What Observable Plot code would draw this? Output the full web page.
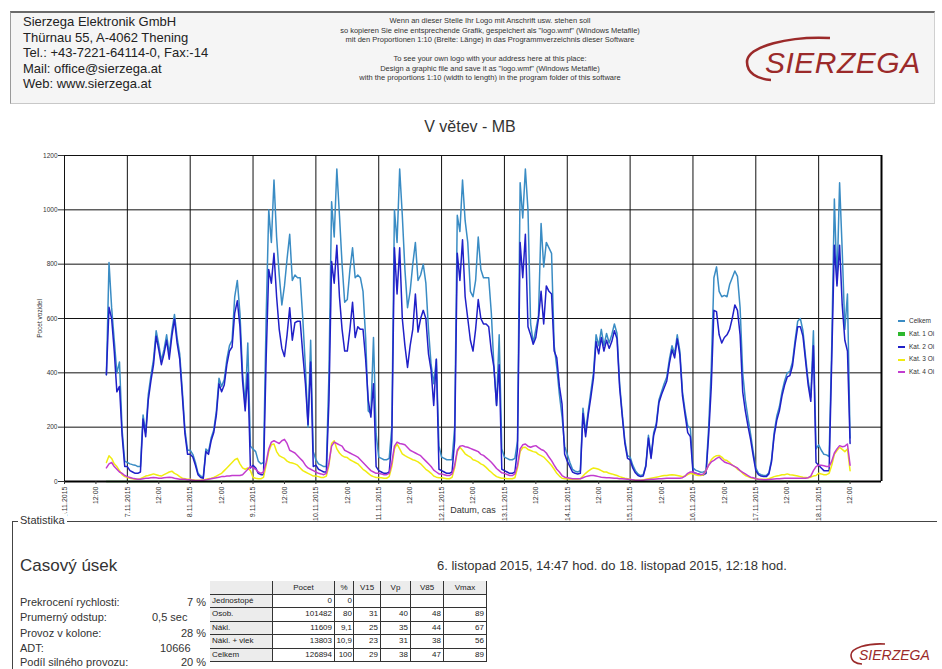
<!DOCTYPE html>
<html><head><meta charset="utf-8">
<script src="https://cdn.jsdelivr.net/npm/d3@7"></script>
<script src="https://cdn.jsdelivr.net/npm/@observablehq/plot@0.6"></script>
<style>
html,body{margin:0;padding:0;background:#fff}
body{position:relative;width:942px;height:669px;overflow:hidden;font-family:"Liberation Sans",Arial,sans-serif;color:#222}
.a{position:absolute;white-space:nowrap}
#hdr{left:10px;top:11px;width:925px;height:93px;background:#f5f5f5;border-top:2px solid #6a6a6a;border-left:1px solid #9a9a9a;border-right:1px solid #d0d0d0;border-bottom:1px solid #c8c8c8;box-sizing:border-box}
.addr{left:23px;font-size:13px;line-height:15.3px;color:#222}
.mid{left:290px;width:400px;text-align:center;font-size:7.5px;line-height:9px;color:#333}
#title{left:0;width:940px;top:118px;text-align:center;font-size:16px;color:#333}
#chart{left:0;top:140px}
.leg{left:898px;font-size:6.5px;color:#333;font-family:"Liberation Sans Narrow","Liberation Sans",sans-serif}
.leg i{display:inline-block;width:7px;height:2px;margin-right:4px;vertical-align:middle}
#stat{left:12px;top:521px;width:924px;height:160px;border-top:1px solid #444;border-left:1px solid #444}
#statlbl{left:18px;top:514px;font-size:11px;background:#fff;padding:0 2px;color:#333}
.big{font-size:17px;color:#333}
.dr{font-size:13px;color:#333}
.st{font-size:11px;color:#333}
.cell{position:absolute;box-sizing:border-box;font-family:"Liberation Sans Narrow","Liberation Sans",sans-serif;font-size:8px;line-height:1;display:flex;align-items:center;color:#222;border-right:1px solid #333;border-bottom:1px solid #333;padding:0 2px;overflow:hidden}
</style></head><body>
<script>
// ---------------- DATA ----------------
// hourly counts, 6.11.2015 16:00 … 18.11.2015 12:00 (one row of source per day)
const celkem = [
 393,806,640,520,400,440,190,75,
 70,65,62,60,55,55,245,180,320,390,450,555,505,445,485,540,470,555,615,530,470,335,190,115,
 115,100,70,30,20,16,120,110,160,190,260,380,350,375,450,500,520,680,740,620,400,280,510,130,
 120,110,75,65,70,600,1000,880,1110,900,760,650,720,820,910,740,760,750,750,600,420,200,520,110,
 80,65,60,55,55,400,1030,900,1150,980,800,660,670,780,860,750,760,750,700,530,260,250,530,175,
 90,85,80,80,85,200,1000,880,1150,980,780,640,700,800,880,740,760,800,730,560,430,360,450,130,
 90,85,80,80,80,200,980,920,1110,960,880,700,680,740,900,780,750,750,750,620,420,280,540,120,
 90,85,80,80,85,150,1100,970,1150,1000,580,510,560,610,950,790,880,860,840,500,420,320,240,130,
 100,70,45,38,35,40,270,180,260,330,400,540,500,560,500,545,510,540,580,545,360,250,150,95,
 90,60,40,28,22,25,60,170,90,180,215,300,330,360,385,450,500,470,540,480,330,260,205,195,
 50,42,38,34,35,40,200,420,750,790,700,680,685,680,725,750,775,755,640,400,300,235,175,110,
 50,30,25,22,22,32,80,180,240,275,330,370,400,405,440,520,590,600,555,460,370,310,555,120,
 135,115,100,98,92,500,1040,730,1100,850,560,690,160
];
const kat2 = [
 393,641,600,480,330,350,170,55,
 55,40,35,30,30,35,230,165,300,370,430,535,485,430,470,520,450,535,598,510,450,315,175,100,
 100,90,60,25,15,12,110,100,150,180,245,360,330,355,430,480,495,620,665,570,370,260,400,50,
 60,50,30,25,25,450,780,730,840,680,560,490,460,540,640,520,585,590,590,470,360,210,440,55,
 60,45,40,35,35,300,810,730,870,680,560,480,480,560,660,530,570,560,560,450,300,237,360,55,
 40,35,30,30,35,150,860,690,860,600,500,420,500,560,690,550,600,630,600,470,410,280,450,45,
 40,35,30,30,35,150,840,740,890,680,600,520,480,560,670,600,580,580,570,480,420,280,430,45,
 40,35,30,30,35,120,880,750,910,570,540,505,530,600,700,580,720,700,690,480,455,350,286,100,
 75,55,35,30,28,30,250,165,245,310,380,515,470,530,480,520,490,515,555,525,345,240,140,85,
 80,50,32,22,18,20,55,160,85,170,205,290,320,345,370,435,485,455,525,465,315,245,180,165,
 35,30,28,25,24,30,170,350,630,625,540,510,530,540,560,600,650,630,540,330,260,205,155,95,
 40,25,20,18,18,28,72,168,225,260,315,355,385,390,425,505,570,570,535,445,355,295,500,70,
 60,50,40,40,40,450,870,720,870,650,520,480,140
];
const kat3 = [
 70,95,85,65,55,40,25,18,
 15,12,10,8,8,10,15,20,22,25,28,25,22,20,25,30,35,38,30,25,18,12,10,8,
 8,6,5,5,5,6,8,10,12,15,20,25,30,40,50,60,70,80,85,65,50,45,50,40,
 15,12,10,10,15,60,110,135,138,110,95,90,85,75,70,68,65,60,50,40,35,30,25,20,
 20,18,15,15,20,60,140,150,120,105,95,90,88,80,75,70,65,55,45,38,30,22,18,15,
 15,14,12,12,18,55,120,138,120,102,95,90,85,80,77,72,65,55,45,38,30,20,16,14,
 14,12,10,10,15,50,110,126,115,102,95,90,80,77,72,65,60,52,42,34,25,18,15,12,
 12,10,10,10,14,50,110,125,126,118,114,110,108,100,95,90,80,70,59,45,30,20,12,10,
 10,8,8,8,8,10,20,30,38,45,50,48,45,40,35,35,30,28,25,22,18,15,12,10,
 8,6,5,5,5,6,8,10,12,14,16,18,20,22,22,24,25,24,22,20,18,20,25,30,
 28,25,22,22,25,40,60,80,90,95,96,90,80,77,70,60,55,45,40,30,22,18,14,12,
 10,8,8,8,8,10,14,18,20,22,25,25,28,25,24,22,20,18,16,15,14,16,20,22,
 30,28,25,25,30,60,100,114,126,118,110,120,40
];
const kat4 = [
 50,65,70,55,45,35,30,22,
 18,15,12,10,8,8,10,12,12,14,15,14,12,12,14,15,16,15,12,10,8,8,8,6,
 6,5,4,4,4,5,6,8,10,12,14,16,18,18,20,20,22,22,22,22,25,35,45,55,
 50,45,35,30,35,70,120,145,150,145,140,150,155,140,115,110,105,95,85,75,60,50,45,40,
 35,30,28,25,30,70,130,145,140,135,130,115,110,105,100,95,90,80,70,60,50,40,35,30,
 30,28,25,25,30,70,130,145,140,138,135,125,115,110,105,100,95,85,75,65,55,42,35,28,
 28,25,22,22,28,60,115,130,132,128,126,122,118,114,110,100,96,88,80,71,60,48,40,32,
 30,26,22,22,28,60,120,135,138,130,126,130,132,125,118,114,105,90,77,60,45,35,22,16,
 14,12,10,10,10,10,14,18,20,22,22,20,18,16,15,14,14,13,12,12,10,10,9,8,
 7,6,5,5,5,5,6,7,8,8,9,10,10,11,12,12,12,12,12,12,14,20,30,35,
 35,30,28,25,28,40,60,72,78,85,90,80,72,68,65,60,55,50,40,34,28,22,16,14,
 10,8,7,6,6,7,8,9,10,10,11,12,12,12,12,12,12,12,12,12,14,20,40,55,
 60,60,58,55,55,75,105,120,132,128,130,138,60
];
const kat1 = Array(celkem.length).fill(0); // Jednostopé: 0 vehicles in every hour
const seriesNames = ["Celkem", "Kat. 1 Oi", "Kat. 2 Oi", "Kat. 3 Oi", "Kat. 4 Oi"];
const seriesColors = ["#3a8cc4", "#2db82d", "#2020c8", "#f0ec10", "#c23ccf"];
const yTicks = [0, 200, 400, 600, 800, 1000, 1200];
const xTickLabels = ["6.11.2015","12:00","7.11.2015","12:00","8.11.2015","12:00","9.11.2015","12:00",
 "10.11.2015","12:00","11.11.2015","12:00","12.11.2015","12:00","13.11.2015","12:00","14.11.2015","12:00",
 "15.11.2015","12:00","16.11.2015","12:00","17.11.2015","12:00","18.11.2015","12:00"];
const headerLeft = ["Sierzega Elektronik GmbH","Thürnau 55, A-4062 Thening","Tel.: +43-7221-64114-0, Fax:-14","Mail: office@sierzega.at","Web: www.sierzega.at"];
const headerMid1 = ["Wenn an dieser Stelle Ihr Logo mit Anschrift usw. stehen soll","so kopieren Sie eine entsprechende Grafik, gespeichert als \"logo.wmf\" (Windows Metafile)","mit den Proportionen 1:10 (Breite: Länge) in das Programmverzeichnis dieser Software"];
const headerMid2 = ["To see your own logo with your address here at this place:","Design a graphic file and save it as \"logo.wmf\" (Windows Metafile)","with the proportions 1:10 (width to length) in the program folder of this software"];
const statLabels = ["Prekrocení rychlosti:","Prumerný odstup:","Provoz v kolone:","ADT:","Podíl silného provozu:"];
const statValues = ["7 %","0,5 sec","28 %","10666","20 %"];
const tableCols = ["", "Pocet", "%", "V15", "Vp", "V85", "Vmax"];
const tableRowLabels = ["Jednostopé","Osob.","Nákl.","Nákl. + vlek","Celkem"];
const tablePocet = ["0","101482","11609","13803","126894"];
const tablePct = ["0","80","9,1","10,9","100"];
const tableV15 = ["","31","25","23","29"];
const tableVp = ["","40","35","31","38"];
const tableV85 = ["","48","44","38","47"];
const tableVmax = ["","89","67","56","89"];
</script>

<div id="hdr" class="a"></div>
<svg class="a" style="left:735px;top:28px" width="200" height="62">
  <path d="M 95 10 C 55 8, 12 18, 12 34 C 12 45, 22 51, 36 52" fill="none" stroke="#9b2a2a" stroke-width="2.6"/>
  <text x="30" y="45" font-family="Liberation Sans" font-style="italic" font-size="30" fill="#9b2a2a" letter-spacing="0.5">SIERZEGA</text>
</svg>
<div id="title" class="a">V větev - MB</div>
<div id="chart" class="a"></div>
<div id="stat" class="a"></div>
<div id="statlbl" class="a">Statistika</div>
<div class="a big" style="left:20px;top:556px">Casový úsek</div>
<div class="a dr" style="left:437px;top:558px">6. listopad 2015, 14:47 hod. do 18. listopad 2015, 12:18 hod.</div>
<svg class="a" style="left:845px;top:640px" width="95" height="28">
  <path d="M 40 4 C 22 3, 6 8, 6 15 C 6 21, 11 24, 17 24" fill="none" stroke="#9b2a2a" stroke-width="1.6"/>
  <text x="14" y="20" font-family="Liberation Sans" font-style="italic" font-size="14" fill="#9b2a2a">SIERZEGA</text>
</svg>

<script>
const body = d3.select("body");
// header text
headerLeft.forEach((t, i) => body.append("div").attr("class", "a addr").style("top", (14 + i * 15.6) + "px").text(t));
headerMid1.forEach((t, i) => body.append("div").attr("class", "a mid").style("top", (16 + i * 9.5) + "px").text(t));
headerMid2.forEach((t, i) => body.append("div").attr("class", "a mid").style("top", (54 + i * 9.5) + "px").text(t));

// chart
const t0 = Date.UTC(2015, 10, 6, 16);
const HOUR = 3600e3;
const seriesValues = [celkem, kat1, kat2, kat3, kat4];
const rows = seriesValues.flatMap((vals, k) => vals.map((v, i) => ({t: new Date(t0 + i * HOUR), v, s: seriesNames[k]})));
const xTicks = xTickLabels.map((_, i) => new Date(Date.UTC(2015, 10, 6) + i * 12 * HOUR));
const labelOf = new Map(xTicks.map((d, i) => [+d, xTickLabels[i]]));
const dayLines = d3.range(14).map(i => new Date(Date.UTC(2015, 10, 6 + i)));
const xDomain = [dayLines[0], dayLines[13]];

const chart = Plot.plot({
  width: 942, height: 381,
  marginLeft: 64, marginRight: 61, marginTop: 15, marginBottom: 40,
  style: {fontFamily: "'Liberation Sans Narrow','Liberation Sans',Arial,sans-serif", background: "transparent", overflow: "visible", color: "#333"},
  x: {type: "utc", domain: xDomain},
  y: {domain: [0, 1200]},
  color: {domain: seriesNames, range: seriesColors},
  marks: [
    Plot.ruleX(dayLines, {stroke: "#111", strokeWidth: 1}),
    Plot.ruleY(yTicks, {stroke: "#111", strokeWidth: 1}),
    Plot.lineY(rows, {x: "t", y: "v", z: "s", stroke: "s", strokeWidth: 1.5, strokeLinejoin: "round"}),
    Plot.ruleY([0], {stroke: "#000", strokeWidth: 2.2}),
    Plot.ruleX([xDomain[1]], {stroke: "#000", strokeWidth: 2}),
    Plot.axisY({ticks: yTicks, tickFormat: d => String(d), tickSize: 6, tickPadding: 1, fontSize: 6.5, label: "Pocet vozidel", labelAnchor: "center", labelArrow: "none", labelOffset: 27}),
    Plot.axisX({ticks: xTicks, tickFormat: d => labelOf.get(+d), tickRotate: -90, tickSize: 3, tickPadding: 2, fontSize: 7, label: null}),
    Plot.text(["Datum, cas"], {frameAnchor: "bottom", dy: 31, fontSize: 9, fill: "#333"})
  ]
});
document.getElementById("chart").appendChild(chart);

// legend
seriesNames.forEach((n, i) => {
  const r = body.append("div").attr("class", "a leg").style("top", (317 + i * 12.8) + "px");
  r.append("i").style("background", seriesColors[i]).style("height", i === 1 ? "4px" : "2px");
  r.append("span").text(n);
});

// stats
const statTops = [596, 611, 627, 642, 656];
statLabels.forEach((t, i) => {
  body.append("div").attr("class", "a st").style("left", "20px").style("top", statTops[i] + "px").text(t);
  const v = body.append("div").attr("class", "a st").style("top", statTops[i] + "px").text(statValues[i]);
  if (i === 3) v.style("left", "160px"); else if (i === 1) v.style("left", "152px"); else v.style("right", (942 - 206) + "px");
});

// table
const colEdges = [210, 273, 335, 354, 381, 411, 444, 487];
const rowEdges = [581, 595, 608, 621.5, 635, 648.5, 662];
const tableBody = [tablePocet, tablePct, tableV15, tableVp, tableV85, tableVmax];
for (let r = 0; r < 6; r++) {
  for (let c = 0; c < 7; c++) {
    let txt, bg = "#fff", just = "flex-end";
    if (r === 0) { txt = tableCols[c]; bg = "#ececec"; just = "center"; }
    else if (c === 0) { txt = tableRowLabels[r - 1]; bg = "#ececec"; just = "flex-start"; }
    else txt = tableBody[c - 1][r - 1];
    body.append("div").attr("class", "cell")
      .style("left", colEdges[c] + "px").style("top", rowEdges[r] + "px")
      .style("width", (colEdges[c + 1] - colEdges[c]) + "px").style("height", (rowEdges[r + 1] - rowEdges[r]) + "px")
      .style("background", bg).style("justify-content", just)
      .style("padding", c === 2 ? "0 1px" : "0 2px")
      .text(txt);
  }
}
</script>
</body></html>
